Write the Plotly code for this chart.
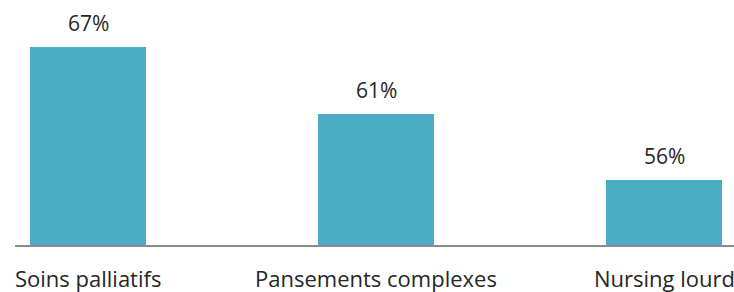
import plotly.graph_objects as go

categories = ["Soins palliatifs", "Pansements complexes", "Nursing lourd"]
values = [66.7, 61.2, 55.8]
value_labels = ["67%", "61%", "56%"]

positions = list(range(len(categories)))
bar_color = "#4BACC6"
text_color = "#262626"
font_family = "Open Sans"

fig = go.Figure()
fig.add_trace(go.Bar(
    x=positions,
    y=values,
    width=0.4,
    marker=dict(color=bar_color, line=dict(width=0)),
    hoverinfo="skip",
))

for xv, yv, lab in zip(positions, values, value_labels):
    fig.add_annotation(
        x=xv, y=yv, text=lab, showarrow=False,
        yanchor="bottom", yshift=8,
        font=dict(family=font_family, size=21, color=text_color),
    )

for xv, cat in zip(positions, categories):
    fig.add_annotation(
        x=xv, xref="x", y=0, yref="paper", text=cat, showarrow=False,
        yanchor="top", yshift=-16,
        font=dict(family=font_family, size=22, color=text_color),
    )

fig.update_layout(
    width=734, height=292,
    margin=dict(l=15, r=0, t=0, b=47),
    paper_bgcolor="white", plot_bgcolor="white",
    showlegend=False,
    bargap=0,
    font=dict(family=font_family, size=22, color=text_color),
)
fig.update_xaxes(
    range=[-0.2535, 2.243],
    showticklabels=False,
    showline=True, linecolor="#8C8C8C", linewidth=2,
    showgrid=False, zeroline=False, ticks="",
)
fig.update_yaxes(
    range=[50.5, 70.58],
    showticklabels=False, showgrid=False, zeroline=False, showline=False,
)

fig.write_html("out.html", config={"displayModeBar": False},
               post_script="document.body.style.margin='0';")
